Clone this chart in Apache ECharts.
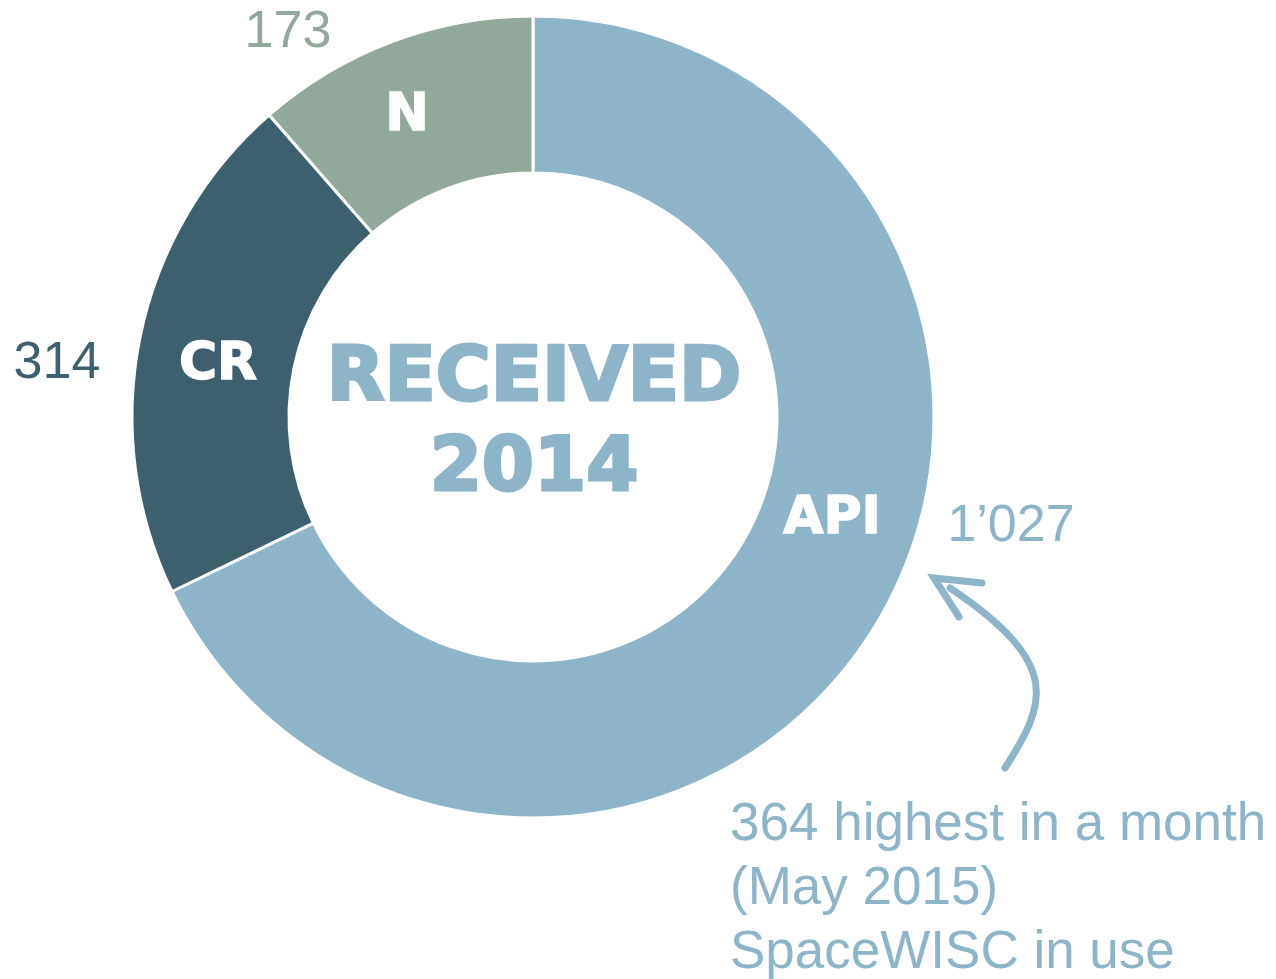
<!DOCTYPE html>
<html>
<head>
<meta charset="utf-8">
<script src="https://cdn.jsdelivr.net/npm/echarts@6/dist/echarts.min.js"></script>
<style>
  html, body { margin: 0; padding: 0; background: #fff; }
  #chart { width: 1276px; height: 979px; }
</style>
</head>
<body>
<div id="chart"></div>
<script>
const categories = ['API', 'CR', 'N']
const values = [1027, 314, 173]
const colors = ['#8eb4c8', '#3e5f6e', '#92a89a']
const centerLines = ['RECEIVED', '2014']
const noteLines = ['364 highest in a month', '(May 2015)', 'SpaceWISC in use']

// label spots (layout only)
const namePos = { API: [832, 519], CR: [218, 365], N: [407, 116] }
const valuePos = { API: [1011, 527], CR: [57, 364], N: [288, 33] }

const fmt = v => String(v).replace(/\B(?=(\d{3})+(?!\d))/g, '\u2019')

const pieData = categories.map((name, i) => ({
  name: name,
  value: values[i],
  itemStyle: { color: colors[i] }
}))

const chart = echarts.init(document.getElementById('chart'))

chart.setOption({
  backgroundColor: '#fff',
  animation: false,
  series: [
    {
      type: 'pie',
      center: [533, 417],
      radius: [244, 401],
      startAngle: 90,
      silent: true,
      itemStyle: { borderColor: '#fff', borderWidth: 3 },
      label: {
        show: true,
        position: 'inside',
        color: '#fff',
        fontFamily: 'DejaVu Sans',
        fontWeight: 'bold',
        fontSize: 52,
        textBorderColor: '#fff',
        textBorderWidth: 1.5,
        formatter: '{b}'
      },
      labelLine: { show: false },
      labelLayout: params => {
        const p = namePos[categories[params.dataIndex]]
        return { x: p[0], y: p[1], align: 'center', verticalAlign: 'middle' }
      },
      data: pieData
    },
    {
      // value labels
      type: 'pie',
      center: [533, 417],
      radius: [244, 401],
      startAngle: 90,
      silent: true,
      itemStyle: { color: 'transparent', borderWidth: 0 },
      label: {
        show: true,
        position: 'outside',
        overflow: 'none',
        fontFamily: 'Liberation Sans',
        fontSize: 52,
        formatter: p => fmt(p.value)
      },
      labelLine: { show: false },
      labelLayout: params => {
        const p = valuePos[categories[params.dataIndex]]
        return { x: p[0], y: p[1], align: 'center', verticalAlign: 'middle' }
      },
      data: categories.map((name, i) => ({
        name: name,
        value: values[i],
        label: { color: colors[i] }
      }))
    }
  ],
  graphic: [
    {
      type: 'text',
      x: 534,
      y: 381,
      style: {
        text: centerLines[0],
        align: 'center',
        verticalAlign: 'middle',
        font: 'bold 75px "DejaVu Sans"',
        fill: colors[0],
        stroke: colors[0],
        lineWidth: 3
      }
    },
    {
      type: 'text',
      x: 534,
      y: 471,
      style: {
        text: centerLines[1],
        align: 'center',
        verticalAlign: 'middle',
        font: 'bold 75px "DejaVu Sans"',
        fill: colors[0],
        stroke: colors[0],
        lineWidth: 3
      }
    },
    {
      type: 'text',
      x: 730,
      y: 793,
      style: {
        text: noteLines.join('\n'),
        align: 'left',
        verticalAlign: 'top',
        font: '53px "Liberation Sans"',
        lineHeight: 64,
        fill: colors[0]
      }
    },
    {
      type: 'bezierCurve',
      shape: { x1: 1005, y1: 768, cpx1: 1045, cpy1: 705, cpx2: 1065, cpy2: 665, x2: 950, y2: 588 },
      style: { fill: 'none', stroke: colors[0], lineWidth: 7, lineCap: 'round' }
    },
    {
      type: 'polyline',
      shape: { points: [[982, 583], [934, 578], [959, 617]] },
      style: { fill: 'none', stroke: colors[0], lineWidth: 7, lineCap: 'round', lineJoin: 'miter' }
    }
  ]
})
</script>
</body>
</html>
